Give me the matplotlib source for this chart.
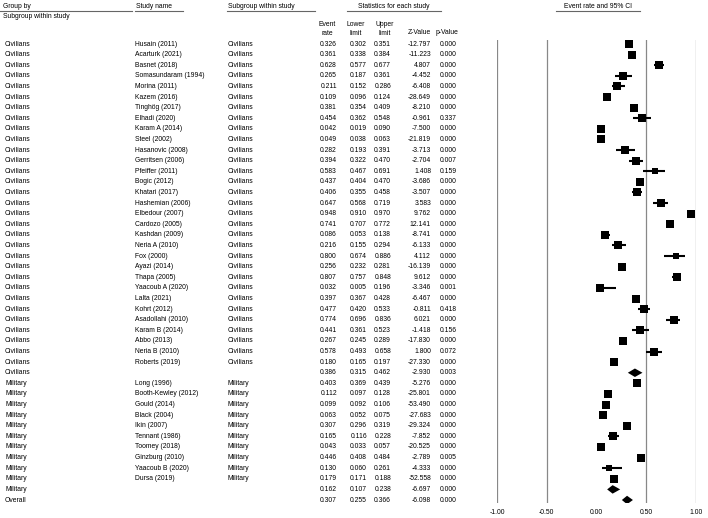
import matplotlib
matplotlib.use("Agg")
import matplotlib.pyplot as plt
from matplotlib import font_manager, transforms
from matplotlib.lines import Line2D
from matplotlib.patches import Polygon

names = {f.name for f in font_manager.fontManager.ttflist}
FONT = 'Liberation Sans Narrow' if 'Liberation Sans Narrow' in names else 'Liberation Sans'
plt.rcParams['font.family'] = [FONT, 'DejaVu Sans']
plt.rcParams['font.size'] = 4.9

# data
groups = ['Civilians'] * 32 + ['Military'] * 11 + ['Overall']
studies = ['Husain (2011)', 'Acarturk (2021)', 'Basnet (2018)', 'Somasundaram (1994)', 'Morina (2011)',
           'Kazem (2016)', 'Tinghög (2017)', 'Elhadi (2020)', 'Karam A (2014)', 'Steel (2002)',
           'Hasanovic (2008)', 'Gerritsen (2006)', 'Pfeiffer (2011)', 'Bogic (2012)', 'Khatari (2017)',
           'Hashemian (2006)', 'Elbedour (2007)', 'Cardozo (2005)', 'Kashdan (2009)', 'Neria A (2010)',
           'Fox (2000)', 'Ayazi (2014)', 'Thapa (2005)', 'Yaacoub A (2020)', 'Lalta (2021)',
           'Kohrt (2012)', 'Asadollahi (2010)', 'Karam B (2014)', 'Abbo (2013)', 'Neria B (2010)',
           'Roberts (2019)', '',
           'Long (1996)', 'Booth-Kewley (2012)', 'Gould (2014)', 'Black (2004)', 'Ikin (2007)',
           'Tennant (1986)', 'Toomey (2018)', 'Ginzburg (2010)', 'Yaacoub B (2020)', 'Dursa (2019)',
           '', '']
subgroups = ['Civilians'] * 31 + [''] + ['Military'] * 10 + ['', '']
event_rate = [0.326, 0.361, 0.628, 0.265, 0.211, 0.109, 0.381, 0.454, 0.042, 0.049,
              0.282, 0.394, 0.583, 0.437, 0.406, 0.647, 0.948, 0.741, 0.086, 0.216,
              0.800, 0.256, 0.807, 0.032, 0.397, 0.477, 0.774, 0.441, 0.267, 0.578,
              0.180, 0.386,
              0.403, 0.112, 0.099, 0.063, 0.307, 0.165, 0.043, 0.446, 0.130, 0.179,
              0.162, 0.307]
lower = [0.302, 0.338, 0.577, 0.187, 0.152, 0.096, 0.354, 0.362, 0.019, 0.038,
         0.193, 0.322, 0.467, 0.404, 0.355, 0.568, 0.910, 0.707, 0.053, 0.155,
         0.674, 0.232, 0.757, 0.005, 0.367, 0.420, 0.696, 0.361, 0.245, 0.493,
         0.165, 0.315,
         0.369, 0.097, 0.092, 0.052, 0.296, 0.116, 0.033, 0.408, 0.060, 0.171,
         0.107, 0.255]
upper = [0.351, 0.384, 0.677, 0.361, 0.286, 0.124, 0.409, 0.548, 0.090, 0.063,
         0.391, 0.470, 0.691, 0.470, 0.458, 0.719, 0.970, 0.772, 0.138, 0.294,
         0.886, 0.281, 0.848, 0.196, 0.428, 0.533, 0.836, 0.523, 0.289, 0.658,
         0.197, 0.462,
         0.439, 0.128, 0.106, 0.075, 0.319, 0.228, 0.057, 0.484, 0.261, 0.188,
         0.238, 0.366]
z_value = [-12.797, -11.223, 4.807, -4.452, -6.408, -28.649, -8.210, -0.961, -7.500, -21.819,
           -3.713, -2.704, 1.408, -3.686, -3.507, 3.583, 9.762, 12.141, -8.741, -6.133,
           4.112, -16.139, 9.612, -3.346, -6.467, -0.811, 6.021, -1.418, -17.830, 1.800,
           -27.330, -2.930,
           -5.276, -25.801, -53.490, -27.683, -29.324, -7.852, -20.525, -2.789, -4.333, -52.558,
           -6.697, -6.098]
p_value = [0.000, 0.000, 0.000, 0.000, 0.000, 0.000, 0.000, 0.337, 0.000, 0.000,
           0.000, 0.007, 0.159, 0.000, 0.000, 0.000, 0.000, 0.000, 0.000, 0.000,
           0.000, 0.000, 0.000, 0.001, 0.000, 0.418, 0.000, 0.156, 0.000, 0.072,
           0.000, 0.003,
           0.000, 0.000, 0.000, 0.000, 0.000, 0.000, 0.000, 0.005, 0.000, 0.000,
           0.000, 0.000]
summary_rows = [31, 42, 43]
xticks = [-1.0, -0.5, 0.0, 0.5, 1.0]
grid_x = [-1.0, -0.5, 0.5, 1.0]

W, H = 708, 518
fig = plt.figure(figsize=(W / 100, H / 100), dpi=100)
n = len(event_rate)
step = (500 - 44) / (n - 1)

ax = fig.add_axes([497 / W, (H - 503) / H, (696 - 497) / W, (503 - 40) / H])
ax.set_xlim(-1, 1)
ax.set_ylim(n - 1 + 3 / step, -4 / step)
for s in ax.spines.values():
    s.set_visible(False)
ax.set_yticks([])
ax.set_xticks(xticks)
ax.set_xticklabels(['%.2f' % t for t in xticks])
ax.tick_params(axis='x', length=0, pad=4)
for gx in grid_x:
    ax.axvline(gx, color='#888888', lw=0.9)

for i in range(n):
    if i in summary_rows:
        hh = 0.4
        ax.add_patch(Polygon([(lower[i], i), (event_rate[i], i - hh), (upper[i], i), (event_rate[i], i + hh)],
                             closed=True, color='black', lw=0))
    else:
        ax.plot([lower[i], upper[i]], [i, i], color='black', lw=1.5, solid_capstyle='butt')
        size_px = min(8.3, max(6.6, 8.6 - 8 * (upper[i] - lower[i])))
        ax.scatter([event_rate[i]], [i], marker='s', s=(size_px * 0.72) ** 2, color='black', lw=0, zorder=3)

# table text
row_tr = transforms.blended_transform_factory(fig.transFigure, ax.transData)


def fx(x):
    return x / W


def fy(y):
    return 1 - y / H


for i in range(n):
    fig.text(fx(5), i, groups[i], transform=row_tr, va='center', ha='left')
    fig.text(fx(135), i, studies[i], transform=row_tr, va='center', ha='left')
    fig.text(fx(228), i, subgroups[i], transform=row_tr, va='center', ha='left')
    fig.text(fx(337), i, '%.3f' % event_rate[i], transform=row_tr, va='center', ha='right')
    fig.text(fx(367), i, '%.3f' % lower[i], transform=row_tr, va='center', ha='right')
    fig.text(fx(391), i, '%.3f' % upper[i], transform=row_tr, va='center', ha='right')
    fig.text(fx(431), i, '%.3f' % z_value[i], transform=row_tr, va='center', ha='right')
    fig.text(fx(457), i, '%.3f' % p_value[i], transform=row_tr, va='center', ha='right')

# headers
fig.text(fx(3), fy(7), 'Group by', va='center', ha='left')
fig.text(fx(3), fy(16), 'Subgroup within study', va='center', ha='left')
fig.text(fx(136), fy(7), 'Study name', va='center', ha='left')
fig.text(fx(228), fy(7), 'Subgroup within study', va='center', ha='left')
fig.text(fx(394), fy(6), 'Statistics for each study', va='center', ha='center')
fig.text(fx(327), fy(29), 'Event\nrate', va='center', ha='center', linespacing=1.3)
fig.text(fx(356), fy(29), 'Lower\nlimit', va='center', ha='center', linespacing=1.3)
fig.text(fx(385), fy(29), 'Upper\nlimit', va='center', ha='center', linespacing=1.3)
fig.text(fx(419), fy(33), 'Z-Value', va='center', ha='center')
fig.text(fx(447), fy(33), 'p-Value', va='center', ha='center')
fig.text(fx(598), fy(6), 'Event rate and 95% CI', va='center', ha='center')

for x0, x1, yy in [(0, 132, 11), (135, 183, 11), (227, 315, 11), (347, 441, 11), (556, 640, 11)]:
    fig.add_artist(Line2D([fx(x0), fx(x1)], [fy(yy), fy(yy)], color='#666666', lw=0.8,
                          transform=fig.transFigure))

fig.savefig('out.png', dpi=100)
